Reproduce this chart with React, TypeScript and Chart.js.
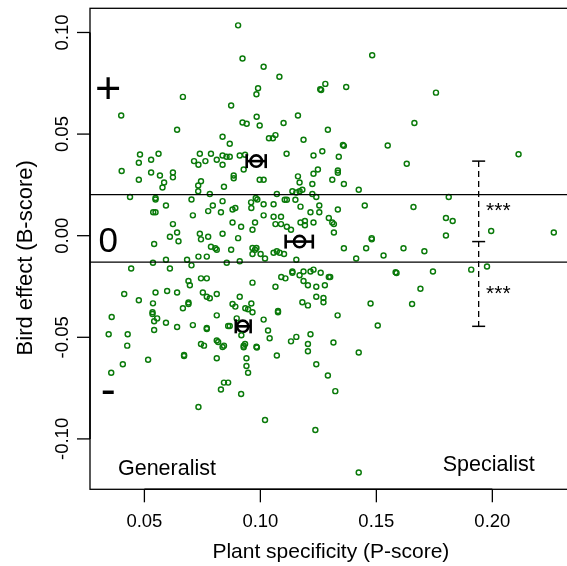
import React, { useEffect, useRef } from "react";
import { Chart, registerables } from "chart.js";

Chart.register(...registerables);

// Species scores: plant specificity (P-score) and bird effect (B-score)
const pScore: number[] = [
  0.0904, 0.0923, 0.0666, 0.0874, 0.0400, 0.0641, 0.0923, 0.0941, 0.0837, 0.0868,
  0.0481, 0.0476, 0.0529, 0.0561, 0.0739, 0.0714, 0.0763, 0.0733, 0.0787, 0.0812,
  0.0837, 0.0854, 0.0868, 0.0837, 0.0911, 0.0934,
  0.1014, 0.1082, 0.0990, 0.0983, 0.1280, 0.1258, 0.1262, 0.1370, 0.1482, 0.0984,
  0.0997, 0.1162, 0.1100, 0.1291, 0.1037, 0.1054, 0.1065, 0.1186, 0.1356, 0.1360,
  0.1549, 0.1113, 0.1229, 0.1267, 0.1338, 0.1631,
  0.1757, 0.1664, 0.2113,
  0.0402, 0.0476, 0.0529, 0.0567, 0.0585, 0.0578, 0.0623, 0.0623, 0.0744, 0.0732,
  0.0732, 0.0782, 0.0843, 0.0885, 0.0885, 0.0928, 0.0438, 0.0548, 0.0548, 0.0593,
  0.0538, 0.0548, 0.0703, 0.0709, 0.0775, 0.0795, 0.0837, 0.0830, 0.0880, 0.0892,
  0.0623, 0.0641, 0.0610, 0.0647, 0.0542, 0.0739, 0.0744, 0.0775, 0.0837, 0.0880,
  0.0917, 0.0904, 0.0787, 0.0806, 0.0812, 0.0874, 0.0733, 0.0769, 0.0593, 0.0684,
  0.0537, 0.0703, 0.0610, 0.0443, 0.0855, 0.0911, 0.0744, 0.0769, 0.0690, 0.0696,
  0.0413, 0.0548, 0.0598, 0.0641, 0.0752, 0.0769, 0.0782, 0.0812, 0.0476, 0.0537,
  0.0690, 0.0690, 0.0666, 0.0880, 0.0892, 0.0911, 0.0535, 0.0535, 0.0555, 0.0542,
  0.0359, 0.0593, 0.0812, 0.0898, 0.0935, 0.0947,
  0.1334, 0.1334, 0.1248, 0.1229, 0.1162, 0.1169, 0.0997, 0.1014, 0.1310, 0.1360,
  0.1224, 0.1424, 0.1071, 0.1138, 0.1155, 0.1169, 0.1181, 0.1224, 0.1241, 0.0980,
  0.0987, 0.1105, 0.1114, 0.1151, 0.0960, 0.1014, 0.1057, 0.1254, 0.1173, 0.1334,
  0.1450, 0.0961, 0.1216, 0.1254, 0.1014, 0.1057, 0.1089, 0.1295, 0.0977, 0.1065,
  0.1089, 0.1173, 0.1192, 0.1192, 0.1229, 0.1310, 0.1317, 0.1114, 0.1132, 0.0966,
  0.1317, 0.1480, 0.1480, 0.1360, 0.1456, 0.1617, 0.1531, 0.1413, 0.0966, 0.0983,
  0.0977, 0.0966, 0.1001, 0.1020, 0.1057, 0.1071, 0.1083, 0.1102, 0.1155, 0.1138,
  0.1138, 0.1186, 0.1216, 0.1229, 0.1260, 0.1295, 0.1301, 0.1090, 0.1108, 0.1169,
  0.1186, 0.1205, 0.1241, 0.1278, 0.0966, 0.1065, 0.1583, 0.1587, 0.1241, 0.1272,
  0.1272, 0.1181, 0.1205, 0.0961, 0.0966, 0.1076, 0.1076, 0.1333, 0.1475, 0.1014,
  0.1812, 0.1660, 0.1800, 0.1829, 0.1800, 0.1995, 0.2265, 0.1707, 0.1744, 0.1909,
  0.1977, 0.1690, 0.1654,
  0.0346, 0.0428, 0.0426, 0.0407, 0.0357, 0.0516, 0.0542, 0.0641, 0.0709, 0.0769,
  0.0769, 0.0671, 0.0671, 0.0744, 0.0757, 0.0812, 0.0818, 0.0837, 0.0843, 0.0812,
  0.0861, 0.0868, 0.0918, 0.0928, 0.0928, 0.0934, 0.0940, 0.0940, 0.0947, 0.0843,
  0.0861, 0.0830, 0.0917, 0.0733,
  0.1033, 0.1040, 0.0983, 0.0985, 0.1071, 0.1132, 0.1155, 0.1216, 0.1205, 0.1205,
  0.1315, 0.1424, 0.1506, 0.1241, 0.1291, 0.1323, 0.1020, 0.1237, 0.1424,
];

const bScore: number[] = [
  0.1035, 0.0872, 0.0683, 0.0641, 0.0591, 0.0521, 0.0557, 0.0551, 0.0487, 0.0452,
  0.0400, 0.0359, 0.0374, 0.0403, 0.0403, 0.0367, 0.0367, 0.0349, 0.0403, 0.0374,
  0.0395, 0.0388, 0.0388, 0.0349, 0.0395, 0.0398,
  0.0831, 0.0782, 0.0726, 0.0696, 0.0747, 0.0721, 0.0717, 0.0732, 0.0888, 0.0585,
  0.0542, 0.0591, 0.0555, 0.0521, 0.0480, 0.0480, 0.0495, 0.0472, 0.0446, 0.0442,
  0.0444, 0.0403, 0.0395, 0.0416, 0.0388, 0.0354,
  0.0704, 0.0555, 0.0401,
  0.0318, 0.0275, 0.0311, 0.0296, 0.0262, 0.0237, 0.0311, 0.0287, 0.0268, 0.0247,
  0.0219, 0.0205, 0.0241, 0.0296, 0.0283, 0.0326, 0.0190, 0.0185, 0.0178, 0.0149,
  0.0115, 0.0115, 0.0178, 0.0100, 0.0121, 0.0149, 0.0170, 0.0115, 0.0129, 0.0136,
  0.0057, 0.0016, -0.0005, -0.0027, -0.0041, 0.0010, -0.0018, -0.0005, 0.0010, 0.0065,
  0.0044, -0.0012, -0.0054, -0.0062, -0.0069, -0.0069, -0.0103, -0.0103, -0.0118, -0.0118,
  -0.0133, -0.0146, -0.0161, -0.0161, -0.0133, -0.0126, -0.0210, -0.0210, -0.0223, -0.0244,
  -0.0287, -0.0280, -0.0272, -0.0280, -0.0280, -0.0300, -0.0308, -0.0287, -0.0318, -0.0333,
  -0.0329, -0.0336, -0.0357, -0.0336, -0.0349, -0.0300, -0.0377, -0.0385, -0.0407, -0.0421,
  -0.0400, -0.0428, -0.0392, -0.0407, -0.0357, -0.0362,
  0.0321, 0.0310, 0.0326, 0.0305, 0.0292, 0.0262, 0.0275, 0.0275, 0.0275, 0.0254,
  0.0254, 0.0226, 0.0205, 0.0219, 0.0213, 0.0219, 0.0226, 0.0205, 0.0190, 0.0185,
  0.0178, 0.0177, 0.0177, 0.0177, 0.0164, 0.0155, 0.0155, 0.0149, 0.0143, 0.0129,
  0.0149, 0.0136, 0.0115, 0.0115, 0.0100, 0.0093, 0.0093, 0.0087, 0.0065, 0.0057,
  0.0057, 0.0065, 0.0072, 0.0051, 0.0065, 0.0065, 0.0057, 0.0044, 0.0029, 0.0029,
  0.0016, -0.0012, -0.0018, -0.0062, -0.0062, -0.0062, -0.0097, -0.0112, -0.0061, -0.0061,
  -0.0069, -0.0090, -0.0090, -0.0112, -0.0084, -0.0077, -0.0084, -0.0090, -0.0118, -0.0176,
  -0.0182, -0.0176, -0.0176, -0.0167, -0.0182, -0.0203, -0.0203, -0.0203, -0.0210, -0.0195,
  -0.0223, -0.0244, -0.0251, -0.0244, -0.0231, -0.0251, -0.0180, -0.0184, -0.0300, -0.0307,
  -0.0328, -0.0328, -0.0343, -0.0334, -0.0377, -0.0371, -0.0377, -0.0392, -0.0334, -0.0413,
  0.0190, 0.0141, 0.0087, 0.0072, 0.0001, 0.0023, 0.0016, -0.0077, -0.0176, -0.0167,
  -0.0152, -0.0261, -0.0336,
  -0.0485, -0.0485, -0.0541, -0.0633, -0.0674, -0.0610, -0.0464, -0.0449, -0.0440, -0.0454,
  -0.0459, -0.0587, -0.0592, -0.0533, -0.0541, -0.0516, -0.0523, -0.0548, -0.0541, -0.0603,
  -0.0444, -0.0444, -0.0490, -0.0541, -0.0549, -0.0533, -0.0603, -0.0641, -0.0674, -0.0723,
  -0.0723, -0.0757, -0.0779, -0.0843,
  -0.0467, -0.0505, -0.0546, -0.0550, -0.0590, -0.0520, -0.0498, -0.0485, -0.0533, -0.0569,
  -0.0526, -0.0575, -0.0442, -0.0633, -0.0688, -0.0765, -0.0907, -0.0956, -0.1165,
];

// Group means (+, 0, - bird effect classes) with horizontal error bars
const groupP: number[] = [0.0982, 0.1169, 0.0924];
const groupB: number[] = [0.0367, -0.0029, -0.0446];
const groupPLow: number[] = [0.0941, 0.1109, 0.0894];
const groupPHigh: number[] = [0.1023, 0.1226, 0.0958];

// Class thresholds on the bird effect
const thresholds: number[] = [0.0202, -0.013];

// Contrast bar between group means, with significance stars
const contrastP = 0.1941;
const contrastB: number[] = [0.0367, -0.0029, -0.0446];
const starB: number[] = [0.015, -0.0254];
const starText: string[] = ["***", "***"];

// Axes
const xTicks: number[] = [0.05, 0.1, 0.15, 0.2];
const yTicks: number[] = [-0.1, -0.05, 0, 0.05, 0.1];
const X_MIN = 0.02655;
const X_MAX = 0.23421;
const Y_MIN = -0.1248;
const Y_MAX = 0.1119;
const xTitle = "Plant specificity (P-score)";
const yTitle = "Bird effect (B-score)";

// Annotations
const signText: string[] = ["+", "0", "-"];
const signB: number[] = [0.073, -0.002, -0.0767];
const signP = 0.0344;
const cornerText: string[] = ["Generalist", "Specialist"];
const cornerP: number[] = [0.0386, 0.1786];
const cornerB: number[] = [-0.1176, -0.1159];

const FONT = "'Liberation Sans', Arial, Helvetica, sans-serif";
const GREEN = "#0a7a0a";

export default function App() {
  const ref = useRef<HTMLCanvasElement>(null);

  useEffect(() => {
    const canvas = ref.current;
    if (!canvas) return;

    const decor = {
      id: "decor",
      afterDatasetsDraw(chart: any) {
        const ctx: CanvasRenderingContext2D = chart.ctx;
        const sx = chart.scales.x;
        const sy = chart.scales.y;
        const a = chart.chartArea;
        const line = (x1: number, y1: number, x2: number, y2: number) => {
          ctx.beginPath();
          ctx.moveTo(x1, y1);
          ctx.lineTo(x2, y2);
          ctx.stroke();
        };
        ctx.save();
        ctx.strokeStyle = "#000";
        ctx.fillStyle = "#000";
        ctx.lineCap = "butt";

        // threshold lines
        ctx.lineWidth = 1.3;
        for (const t of thresholds) {
          const py = sy.getPixelForValue(t);
          line(a.left, py, a.right, py);
        }

        // group error bars
        ctx.lineWidth = 2.6;
        for (let i = 0; i < groupP.length; i++) {
          const py = sy.getPixelForValue(groupB[i]);
          const x1 = sx.getPixelForValue(groupPLow[i]);
          const x2 = sx.getPixelForValue(groupPHigh[i]);
          line(x1, py, x2, py);
          line(x1, py - 7, x1, py + 7);
          line(x2, py - 7, x2, py + 7);
        }

        // contrast dashed bar
        const cx = sx.getPixelForValue(contrastP);
        const cTop = sy.getPixelForValue(Math.max(...contrastB));
        const cBot = sy.getPixelForValue(Math.min(...contrastB));
        ctx.lineWidth = 1.3;
        ctx.setLineDash([6, 4]);
        line(cx, cTop, cx, cBot);
        ctx.setLineDash([]);
        ctx.lineWidth = 1.5;
        for (const b of contrastB) {
          const py = sy.getPixelForValue(b);
          line(cx - 6.5, py, cx + 6.5, py);
        }
        ctx.font = `21px ${FONT}`;
        ctx.textAlign = "left";
        ctx.textBaseline = "alphabetic";
        for (let i = 0; i < starB.length; i++) {
          ctx.fillText(starText[i], cx + 7.4, sy.getPixelForValue(starB[i]) + 0.585 * 21);
        }
        ctx.restore();
      },
      afterDraw(chart: any) {
        const ctx: CanvasRenderingContext2D = chart.ctx;
        const sx = chart.scales.x;
        const sy = chart.scales.y;
        const a = chart.chartArea;
        const line = (x1: number, y1: number, x2: number, y2: number) => {
          ctx.beginPath();
          ctx.moveTo(x1, y1);
          ctx.lineTo(x2, y2);
          ctx.stroke();
        };
        ctx.save();
        ctx.strokeStyle = "#000";
        ctx.fillStyle = "#000";
        ctx.lineWidth = 1.3;
        ctx.strokeRect(a.left, a.top, a.right - a.left, a.bottom - a.top);

        const tickLen = 13;
        // x axis
        ctx.lineWidth = 1.6;
        line(sx.getPixelForValue(xTicks[0]), a.bottom, sx.getPixelForValue(xTicks[xTicks.length - 1]), a.bottom);
        ctx.lineWidth = 1.3;
        ctx.font = `18.5px ${FONT}`;
        ctx.textAlign = "center";
        ctx.textBaseline = "alphabetic";
        for (const t of xTicks) {
          const px = sx.getPixelForValue(t);
          line(px, a.bottom, px, a.bottom + tickLen);
          ctx.fillText(t.toFixed(2), px, a.bottom + 37.4);
        }
        // y axis
        ctx.lineWidth = 1.6;
        line(a.left, sy.getPixelForValue(yTicks[0]), a.left, sy.getPixelForValue(yTicks[yTicks.length - 1]));
        ctx.lineWidth = 1.3;
        for (const t of yTicks) {
          const py = sy.getPixelForValue(t);
          line(a.left - tickLen, py, a.left, py);
          ctx.save();
          ctx.translate(a.left - 21.7, py);
          ctx.rotate(-Math.PI / 2);
          ctx.fillText(t.toFixed(2), 0, 0);
          ctx.restore();
        }
        // titles
        ctx.font = `21px ${FONT}`;
        ctx.fillText(xTitle, (a.left + a.right) / 2, 558);
        ctx.font = `22px ${FONT}`;
        ctx.save();
        ctx.translate(32, (a.top + a.bottom) / 2 + 9);
        ctx.rotate(-Math.PI / 2);
        ctx.fillText(yTitle, 0, 0);
        ctx.restore();

        // sign annotations
        const sp = sx.getPixelForValue(signP);
        const sizes = [45, 35, 45];
        const baseOff = [0.357, 0.358, 0.285];
        for (let i = 0; i < signText.length; i++) {
          ctx.font = `${sizes[i]}px ${FONT}`;
          ctx.fillText(signText[i], sp, sy.getPixelForValue(signB[i]) + baseOff[i] * sizes[i]);
        }
        // corner labels
        ctx.font = `21.5px ${FONT}`;
        ctx.textAlign = "left";
        for (let i = 0; i < cornerText.length; i++) {
          ctx.fillText(cornerText[i], sx.getPixelForValue(cornerP[i]), sy.getPixelForValue(cornerB[i]));
        }
        ctx.restore();
      },
    };

    const points = pScore.map((p, i) => ({ x: p, y: bScore[i] }));
    const groups = groupP.map((p, i) => ({ x: p, y: groupB[i] }));

    const chart = new Chart(canvas, {
      type: "scatter",
      data: {
        datasets: [
          {
            data: points,
            pointStyle: "circle",
            pointRadius: 2.5,
            pointHoverRadius: 2.5,
            borderWidth: 1.45,
            borderColor: GREEN,
            backgroundColor: "rgba(0,0,0,0)",
          },
          {
            data: groups,
            pointStyle: "circle",
            pointRadius: 5.7,
            pointHoverRadius: 5.7,
            borderWidth: 2.6,
            borderColor: "#000",
            backgroundColor: "rgba(0,0,0,0)",
          },
        ],
      },
      options: {
        animation: false,
        responsive: false,
        events: [],
        layout: { padding: { left: 90, top: 6.7, right: 7.4, bottom: 76.7 } },
        scales: {
          x: { type: "linear", min: X_MIN, max: X_MAX, display: false },
          y: { type: "linear", min: Y_MIN, max: Y_MAX, display: false },
        },
        plugins: { legend: { display: false }, tooltip: { enabled: false } },
      },
      plugins: [decor],
    });
    return () => chart.destroy();
  }, []);

  return (
    <div
      style={{
        position: "fixed",
        left: 0,
        top: 0,
        width: 567,
        height: 566,
        overflow: "hidden",
        background: "#fff",
      }}
    >
      <canvas ref={ref} width={580} height={566} style={{ width: 580, height: 566, display: "block" }} />
    </div>
  );
}
